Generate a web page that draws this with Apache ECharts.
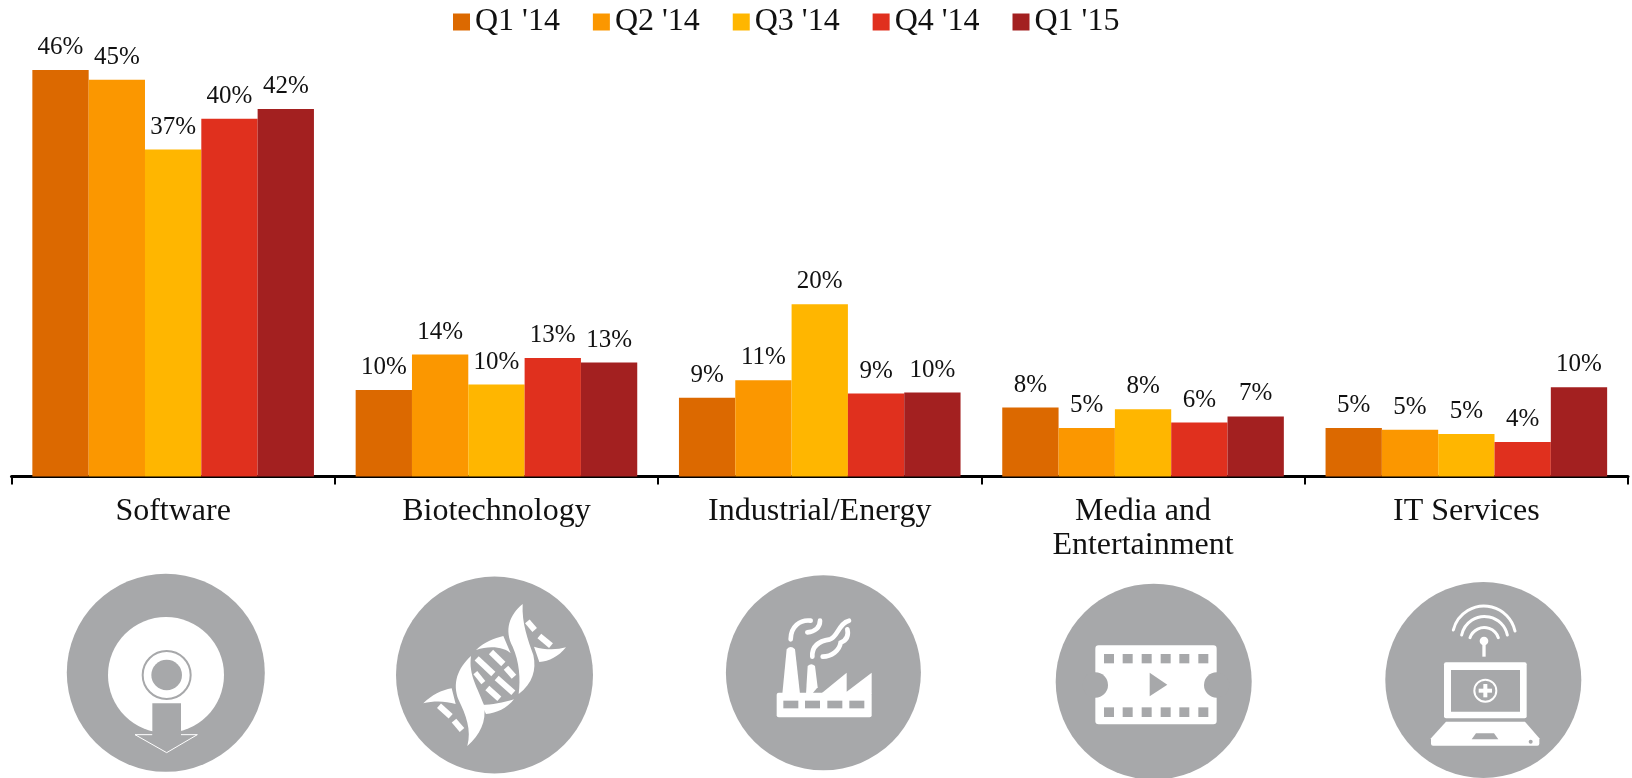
<!DOCTYPE html>
<html>
<head>
<meta charset="utf-8">
<title>Deal share by industry</title>
<script src="https://cdn.jsdelivr.net/npm/echarts@6/dist/echarts.min.js"></script>
<style>
html, body { margin: 0; padding: 0; background: #fff; }
#chart { width: 1632px; height: 778px; }
</style>
</head>
<body>
<div id="chart"></div>
<script>
const categories = ["Software", "Biotechnology", "Industrial/Energy", "Media and\nEntertainment", "IT Services"];
const quarters = ["Q1 '14", "Q2 '14", "Q3 '14", "Q4 '14", "Q1 '15"];
const colors = ["#DC6900", "#FB9700", "#FFB600", "#E0301E", "#A32020"];

// bar heights, the printed labels are rounded differently
const q1_14 = [46.0, 9.8, 8.9, 7.8, 5.5];
const q2_14 = [44.9, 13.8, 10.9, 5.5, 5.3];
const q3_14 = [37.0, 10.4, 19.5, 7.6, 4.8];
const q4_14 = [40.5, 13.4, 9.4, 6.1, 3.9];
const q1_15 = [41.6, 12.9, 9.5, 6.8, 10.1];

const q1_14Labels = ["46%", "10%", "9%", "8%", "5%"];
const q2_14Labels = ["45%", "14%", "11%", "5%", "5%"];
const q3_14Labels = ["37%", "10%", "20%", "8%", "5%"];
const q4_14Labels = ["40%", "13%", "9%", "6%", "4%"];
const q1_15Labels = ["42%", "13%", "10%", "7%", "10%"];

const seriesValues = [q1_14, q2_14, q3_14, q4_14, q1_15];
const seriesLabels = [q1_14Labels, q2_14Labels, q3_14Labels, q4_14Labels, q1_15Labels];

const FONT = "'Liberation Serif', serif";
const GREY = "#A7A8AA";
const WHITE = "#fff";

function disc(cx, cy, r, fill) {
  return { type: "circle", shape: { cx: cx, cy: cy, r: r }, style: { fill: fill } };
}
function box(x, y, w, h, fill, r) {
  return { type: "rect", shape: { x: x, y: y, width: w, height: h, r: r || 0 }, style: { fill: fill } };
}
// the graphic component has no plain path type, so each svg path is registered as a shape
let pathCount = 0;
function svgShape(d) {
  pathCount++;
  const name = "iconPath" + pathCount;
  echarts.graphic.registerShape(name, echarts.graphic.extendPath(d, {}));
  return name;
}
function fillPath(d, fill) {
  return { type: svgShape(d), shape: {}, style: { fill: fill } };
}
function linePath(d, color, width, cap) {
  return { type: svgShape(d), shape: {}, style: { fill: null, stroke: color, lineWidth: width, lineCap: cap || "round" } };
}
// icon parts are written in 3x crop units, the group scales them back
function icon(x, y, children) {
  return { type: "group", x: x, y: y, scaleX: 1 / 3, scaleY: 1 / 3, children: children };
}

const softwareIcon = icon(90, 600, [
  disc(228, 225, 174, WHITE),
  { type: "circle", shape: { cx: 230, cy: 225, r: 72 }, style: { fill: WHITE, stroke: GREY, lineWidth: 6 } },
  disc(230, 225, 46, GREY),
  box(187, 310, 86, 100, GREY),
  {
    type: svgShape("M187 404 L135 404 L230 458 L322 404 L273 404"),
    shape: {},
    style: { fill: GREY, stroke: WHITE, lineWidth: 3 },
  },
  box(188, 396, 84, 12, GREY),
]);

const bioIcon = icon(390, 590, [
  fillPath("M398 42 C358 75 342 120 368 170 C388 215 392 265 386 312 C428 280 440 240 430 195 C414 150 395 100 398 42 Z", WHITE),
  fillPath("M432 170 C465 180 500 180 528 172 C505 200 478 214 448 216 Z", WHITE),
  fillPath("M258 180 C285 155 312 145 340 138 L362 190 C345 172 300 165 258 180 Z", WHITE),
  fillPath("M243 198 C203 235 186 280 206 330 C228 375 245 420 232 468 C270 435 290 395 282 345 C264 295 235 255 243 198 Z", WHITE),
  fillPath("M100 340 C125 315 155 300 185 295 L197 342 C165 332 130 332 100 340 Z", WHITE),
  fillPath("M275 345 C305 345 340 338 372 328 C350 355 320 370 288 372 Z", WHITE),
  linePath("M260 205 L310 252", WHITE, 18, "butt"),
  linePath("M303 186 L340 222", WHITE, 18, "butt"),
  linePath("M348 233 L372 260", WHITE, 18, "butt"),
  linePath("M256 248 L280 278", WHITE, 15, "butt"),
  linePath("M320 264 L370 308", WHITE, 18, "butt"),
  linePath("M292 294 L328 326", WHITE, 18, "butt"),
  linePath("M412 94 L434 120", WHITE, 18, "butt"),
  linePath("M448 138 L483 167", WHITE, 18, "butt"),
  linePath("M147 347 L182 379", WHITE, 18, "butt"),
  linePath("M192 392 L216 420", WHITE, 18, "butt"),
]);

const factoryIcon = icon(750, 600, [
  box(80, 278, 285, 74, WHITE, 6),
  fillPath("M97 282 L110 148 Q122 134 135 148 L150 282 Z", WHITE),
  fillPath("M168 282 L173 198 Q184 188 195 198 L203 262 L186 282 Z", WHITE),
  fillPath("M212 282 L290 218 L290 275 L365 218 L365 282 Z", WHITE),
  box(100, 302, 45, 23, GREY),
  box(165, 302, 45, 23, GREY),
  box(232, 302, 45, 23, GREY),
  box(298, 302, 45, 23, GREY),
  linePath("M122 118 C122 80 150 58 182 62", WHITE, 14),
  linePath("M210 62 C210 82 195 95 172 97", WHITE, 14),
  linePath("M187 170 C185 135 212 122 240 118 C262 112 268 68 297 62", WHITE, 14),
  linePath("M218 170 C245 170 268 152 272 128 C292 120 296 105 292 88", WHITE, 14),
]);

const filmIcon = icon(1080, 630, [
  box(46, 46, 364, 237, WHITE, 10),
  disc(46, 165, 38, GREY),
  disc(410, 165, 38, GREY),
  box(72, 72, 30, 28, GREY), box(128, 72, 30, 28, GREY), box(185, 72, 30, 28, GREY),
  box(242, 72, 30, 28, GREY), box(298, 72, 30, 28, GREY), box(355, 72, 30, 28, GREY),
  box(72, 232, 30, 29, GREY), box(128, 232, 30, 29, GREY), box(185, 232, 30, 29, GREY),
  box(242, 232, 30, 29, GREY), box(298, 232, 30, 29, GREY), box(355, 232, 30, 29, GREY),
  fillPath("M209 128 L262 164 L209 199 Z", GREY),
]);

const itIcon = icon(1420, 595, [
  linePath("M100 105 A95 95 0 0 1 285 108", WHITE, 9),
  linePath("M125 120 A70 70 0 0 1 262 120", WHITE, 9),
  linePath("M150 128 A45 45 0 0 1 235 128", WHITE, 9),
  disc(192, 138, 13, WHITE),
  box(187, 145, 10, 40, WHITE),
  box(72, 202, 248, 168, WHITE, 6),
  box(93, 225, 207, 125, GREY),
  { type: "circle", shape: { cx: 196, cy: 287, r: 33 }, style: { fill: GREY, stroke: WHITE, lineWidth: 6 } },
  box(176, 281, 40, 12, WHITE),
  box(190, 267, 12, 40, WHITE),
  fillPath("M78 380 L315 380 L358 430 L358 446 Q358 452 352 452 L39 452 Q33 452 33 446 L33 430 Z", WHITE),
  fillPath("M168 415 L222 415 L235 433 L155 433 Z", GREY),
  disc(332, 440, 6, GREY),
]);

const graphics = [
  disc(165.8, 672.8, 99, GREY),
  disc(494.5, 675, 98.5, GREY),
  disc(823.4, 672.8, 97.5, GREY),
  disc(1153.7, 681.7, 98, GREY),
  disc(1483.3, 680, 98, GREY),
  softwareIcon,
  bioIcon,
  factoryIcon,
  filmIcon,
  itIcon,
];

const myChart = echarts.init(document.getElementById("chart"), null, { renderer: "canvas" });
myChart.setOption({
  animation: false,
  backgroundColor: "#fff",
  textStyle: { fontFamily: FONT },
  legend: {
    data: quarters,
    left: 453,
    top: 6,
    padding: 0,
    itemWidth: 17,
    itemHeight: 17,
    itemGap: 33,
    icon: "rect",
    textStyle: { fontFamily: FONT, fontSize: 32, color: "#111" },
  },
  grid: { left: 11.5, right: 4, top: 34.75, bottom: 301.5, containLabel: false },
  xAxis: {
    type: "category",
    data: categories,
    axisLine: { lineStyle: { color: "#000", width: 3 } },
    axisTick: { show: true, length: 8, lineStyle: { color: "#000", width: 2 } },
    axisLabel: { interval: 0, margin: 18, fontFamily: FONT, fontSize: 32, lineHeight: 34, color: "#111" },
  },
  yAxis: { type: "value", min: 0, max: 50, show: false, splitLine: { show: false } },
  series: quarters.map((name, i) => ({
    name: name,
    type: "bar",
    data: seriesValues[i],
    barGap: 0,
    barCategoryGap: "12.9%",
    itemStyle: { color: colors[i] },
    label: {
      show: true,
      position: "top",
      distance: 10,
      fontFamily: FONT,
      fontSize: 25,
      color: "#111",
      formatter: (p) => seriesLabels[i][p.dataIndex],
    },
  })),
  graphic: graphics,
});
</script>
</body>
</html>
